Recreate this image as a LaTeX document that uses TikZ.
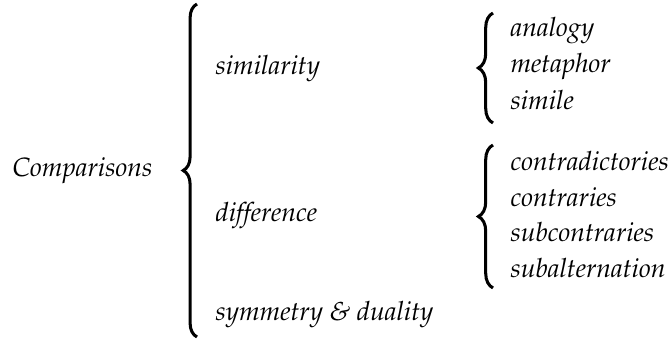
\documentclass[tikz,border=0pt]{standalone}
\IfFileExists{mathpazo.sty}{\usepackage[T1]{fontenc}\usepackage{mathpazo}}{\usepackage{fontspec}\setmainfont{Liberation Serif}}
\usepackage{tikz}
\usetikzlibrary{decorations.pathreplacing}

\begin{document}
\begin{tikzpicture}[x=0.3774pt, y=-0.3774pt,
        item/.style={anchor=base west, inner sep=0pt, font=\itshape},
        bracket/.style={decorate, decoration={brace, amplitude=#1}, line width=1.15pt}]
        \useasboundingbox (0,0) rectangle (671,341);
        % first level
        \node[item] (comp) at (12,177) {Comparisons};
        \node[item] (sim) at (215,75) {similarity};
        \node[item] (diff) at (215,222) {difference};
        \node[item] (symm) at (215,321) {symmetry \& duality};
        % second level
        \node[item] (anal) at (510,37) {analogy};
        \node[item] (meta) at (510,73) {metaphor};
        \node[item] (simi) at (510,110) {simile};
        \node[item] (cdic) at (510,171) {contradictories};
        \node[item] (ctra) at (510,207) {contraries};
        \node[item] (subc) at (510,242) {subcontraries};
        \node[item] (suba) at (510,278) {subalternation};
        % braces
        \coordinate (bigtop) at (197,4);
        \coordinate (bigbot) at (197,337);
        \coordinate (simtop) at (493,13);
        \coordinate (simbot) at (493,123);
        \coordinate (difftop) at (493,145);
        \coordinate (diffbot) at (493,288);
        \draw[bracket=5.2pt] (bigbot) -- (bigtop);
        \draw[bracket=5.5pt] (simbot) -- (simtop);
        \draw[bracket=5.5pt] (diffbot) -- (difftop);
\end{tikzpicture}
\end{document}
